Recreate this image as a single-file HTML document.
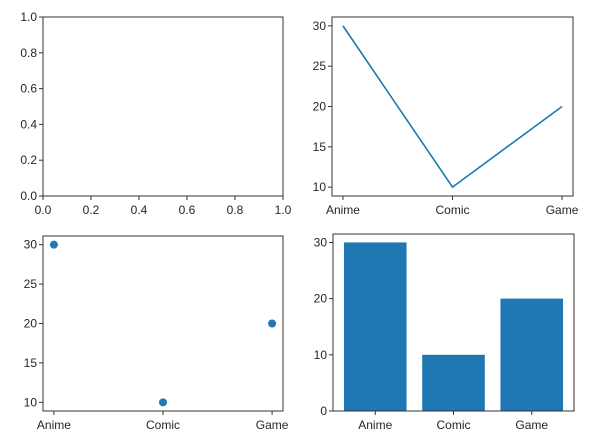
<!DOCTYPE html>
<html><head><meta charset="utf-8"><style>
body{margin:0;background:#fff;}
svg text{font-family:"Liberation Sans","DejaVu Sans",sans-serif;font-size:12px;fill:#262626;}
</style></head><body>
<svg width="590" height="443" viewBox="0 0 590 443">
<g id="root"></g>
</svg>
<script>
const categories = ["Anime","Comic","Game"];
const values = [30,10,20];
const emptyTicks = ["0.0","0.2","0.4","0.6","0.8","1.0"];
const lineYTicks = [10,15,20,25,30];
const barYTicks = [0,10,20,30];
const NS="http://www.w3.org/2000/svg";
const root=document.getElementById('root');
function mk(tag,attrs,parent){const e=document.createElementNS(NS,tag);for(const k in attrs)e.setAttribute(k,attrs[k]);(parent||root).appendChild(e);return e;}
function axes(name,x0,x1,y0,y1,xd,yd){
  const g=mk('g',{});
  
  
  const sx=v=>x0+(v-xd[0])/(xd[1]-xd[0])*(x1-x0);
  const sy=v=>y1-(v-yd[0])/(yd[1]-yd[0])*(y1-y0);
  return {g,sx,sy,x0,x1,y0,y1};
}
function frame(a){
  const r=mk('rect',{x:a.x0,y:a.y0,width:a.x1-a.x0,height:a.y1-a.y0,fill:'none',stroke:'#333','stroke-width':1},a.g);
  
  
}
function xtick(a,v,label){
  const x=a.sx(v);
  mk('line',{x1:x,x2:x,y1:a.y1,y2:a.y1+4,stroke:'#333'},a.g);
  const t=mk('text',{x:x,y:a.y1+18,'text-anchor':'middle'},a.g);t.textContent=label;
  
  
}
function ytick(a,v,label){
  const y=a.sy(v);
  mk('line',{x1:a.x0-4,x2:a.x0,y1:y,y2:y,stroke:'#333'},a.g);
  const t=mk('text',{x:a.x0-6,y:y+4,'text-anchor':'end'},a.g);t.textContent=label;
  
  
}
const a1=axes('empty-axes',43,283,17,196,[0,1],[0,1]);
frame(a1);
emptyTicks.forEach(s=>{xtick(a1,+s,s);ytick(a1,+s,s);});
const a2=axes('line-chart',332,573,17,196,[-0.1,2.1],[8.9,31.1]);
frame(a2);
lineYTicks.forEach(v=>ytick(a2,v,String(v)));
categories.forEach((c,i)=>xtick(a2,i,c));
const pl=mk('polyline',{points:values.map((v,i)=>a2.sx(i)+','+a2.sy(v)).join(' '),fill:'none',stroke:'#1f77b4','stroke-width':1.6},a2.g);


const a3=axes('scatter-chart',43,283,236,411,[-0.1,2.1],[8.9,31.1]);
frame(a3);
lineYTicks.forEach(v=>ytick(a3,v,String(v)));
categories.forEach((c,i)=>xtick(a3,i,c));
values.forEach((v,i)=>{
  const p=mk('circle',{cx:a3.sx(i),cy:a3.sy(v),r:4,fill:'#1f77b4'},a3.g);
  
  
});
const a4=axes('bar-chart',333,574,234,411,[-0.54,2.54],[0,31.5]);
barYTicks.forEach(v=>ytick(a4,v,String(v)));
categories.forEach((c,i)=>xtick(a4,i,c));
values.forEach((v,i)=>{
  const xl=a4.sx(i-0.4),xr=a4.sx(i+0.4);
  const b=mk('rect',{x:xl,y:a4.sy(v),width:xr-xl,height:a4.sy(0)-a4.sy(v),fill:'#1f77b4'},a4.g);
  
  
});
frame(a4);
</script>
</body></html>
